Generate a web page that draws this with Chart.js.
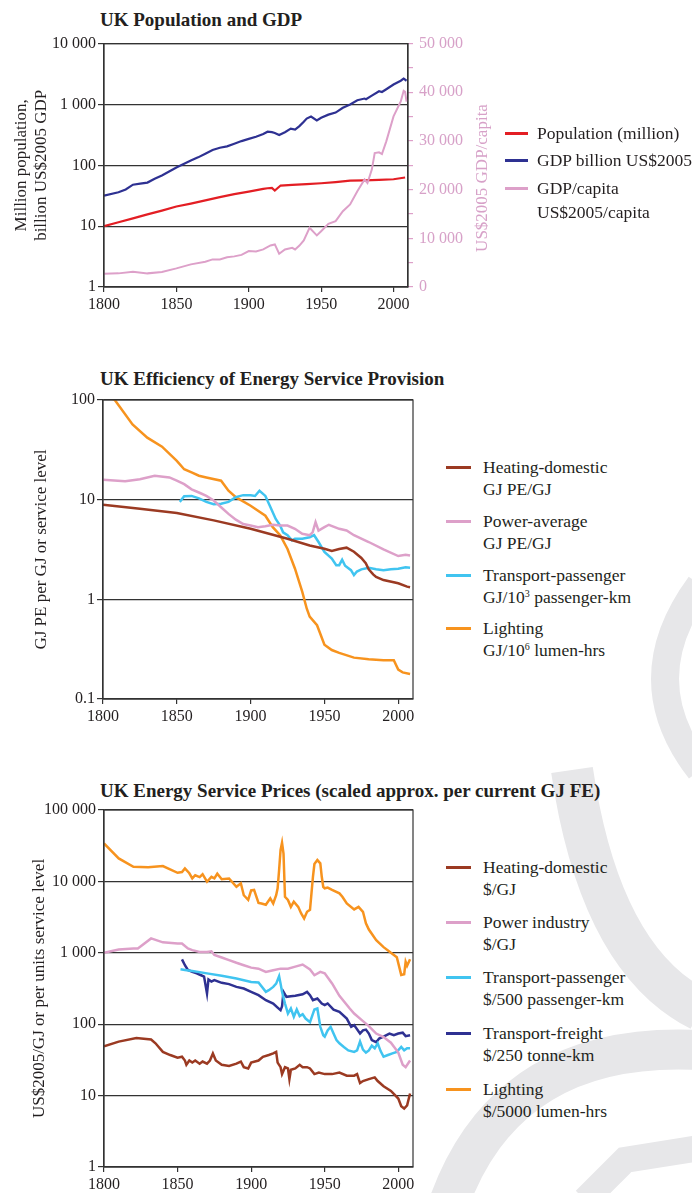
<!DOCTYPE html>
<html>
<head>
<meta charset="utf-8">
<script src="https://cdn.jsdelivr.net/npm/chart.js@4.4.1/dist/chart.umd.min.js"></script>
<style>
  body { margin: 0; background: #fff; }
  #page { position: relative; width: 692px; height: 1193px; overflow: hidden;
          font-family: "Liberation Serif", "DejaVu Serif", serif; color: #231f20; }
  #mark { position: absolute; left: 0; top: 0; }
  canvas { position: absolute; left: 0; }
  .title { position: absolute; left: 100px; font-weight: bold; font-size: 19px; line-height: 22px; white-space: nowrap; }
  .item { position: absolute; font-size: 17.5px; line-height: 22px; white-space: nowrap; }
  .swatch { position: absolute; left: 0; top: 9.5px; height: 3px; }
  .lbl { position: absolute; top: 0; }
  sup { font-size: 10px; vertical-align: 6px; line-height: 0; }
  #rtitle { position: absolute; left: 482px; top: 178px; font-size: 17px; color: #d7a1c8;
            transform: translate(-50%, -50%) rotate(-90deg); white-space: nowrap; }
</style>
</head>
<body>
<div id="page">
  <svg id="mark" width="692" height="1193">
    <g fill="none" stroke="#e7e7e9" stroke-linecap="butt">
      <path d="M 700 585 Q 630 680 700 770" stroke-width="28"/>
      <path d="M 572 770 Q 600 960 700 1010" stroke-width="42"/>
      <path d="M 450 1200 Q 510 1040 700 1050" stroke-width="40"/>
      <path d="M 585 1200 L 625 1160 L 700 1148" stroke-width="26"/>
    </g>
  </svg>

  <div class="title" style="top:9px">UK Population and GDP</div>
  <canvas id="c1" width="480" height="292" style="top:28px"></canvas>
  <div id="rtitle">US$2005 GDP/capita</div>
  <div class="item" style="left:505px;top:122px"><span class="swatch" style="width:23px;background:#e31e24"></span><div class="lbl" style="left:32px">Population (million)</div></div>
  <div class="item" style="left:505px;top:149px"><span class="swatch" style="width:23px;background:#2e3192"></span><div class="lbl" style="left:32px">GDP billion US$2005</div></div>
  <div class="item" style="left:505px;top:176px;line-height:24px"><span class="swatch" style="width:23px;background:#dda0c9;top:10.5px"></span><div class="lbl" style="left:32px">GDP/capita<br>US$2005/capita</div></div>

  <div class="title" style="top:368px">UK Efficiency of Energy Service Provision</div>
  <canvas id="c2" width="420" height="344" style="top:388px"></canvas>
  <div class="item" style="left:446px;top:456px"><span class="swatch" style="width:25px;background:#9b3a22"></span><div class="lbl" style="left:37px">Heating-domestic<br>GJ PE/GJ</div></div>
  <div class="item" style="left:446px;top:510px"><span class="swatch" style="width:25px;background:#dda0c9"></span><div class="lbl" style="left:37px">Power-average<br>GJ PE/GJ</div></div>
  <div class="item" style="left:446px;top:564px"><span class="swatch" style="width:25px;background:#40c4f0"></span><div class="lbl" style="left:37px">Transport-passenger<br>GJ/10<sup>3</sup> passenger-km</div></div>
  <div class="item" style="left:446px;top:617px"><span class="swatch" style="width:25px;background:#f7931e"></span><div class="lbl" style="left:37px">Lighting<br>GJ/10<sup>6</sup> lumen-hrs</div></div>

  <div class="title" style="top:780px">UK Energy Service Prices (scaled approx. per current GJ FE)</div>
  <canvas id="c3" width="420" height="395" style="top:798px"></canvas>
  <div class="item" style="left:446px;top:856px"><span class="swatch" style="width:25px;background:#9b3a22"></span><div class="lbl" style="left:37px">Heating-domestic<br>$/GJ</div></div>
  <div class="item" style="left:446px;top:911px"><span class="swatch" style="width:25px;background:#dda0c9"></span><div class="lbl" style="left:37px">Power industry<br>$/GJ</div></div>
  <div class="item" style="left:446px;top:966px"><span class="swatch" style="width:25px;background:#40c4f0"></span><div class="lbl" style="left:37px">Transport-passenger<br>$/500 passenger-km</div></div>
  <div class="item" style="left:446px;top:1022px"><span class="swatch" style="width:25px;background:#2e3192"></span><div class="lbl" style="left:37px">Transport-freight<br>$/250 tonne-km</div></div>
  <div class="item" style="left:446px;top:1078px"><span class="swatch" style="width:25px;background:#f7931e"></span><div class="lbl" style="left:37px">Lighting<br>$/5000 lumen-hrs</div></div>
</div>

<script>
// ---- tick labels ----
const xTicks = [1800, 1850, 1900, 1950, 2000];
const popTicks = [1, 10, 100, 1000, 10000];
const gdpPcTicks = [0, 5000, 10000, 15000, 20000, 25000, 30000, 35000, 40000, 45000, 50000];
const effTicks = [0.1, 1, 10, 100];
const priceTicks = [1, 10, 100, 1000, 10000, 100000];

// ---- UK Population and GDP ----
const popYears = [1800, 1810, 1820, 1830, 1840, 1850, 1860, 1870, 1880, 1890, 1900, 1910, 1913, 1916, 1918, 1922, 1930, 1940, 1950, 1960, 1970, 1980, 1990, 2000, 2008];
const popValues = [10, 11.6, 13.4, 15.6, 18, 21, 23.5, 26.5, 30, 33.5, 37, 41, 42, 42.5, 38.5, 46.5, 47.5, 49, 50.7, 53, 56, 56.5, 57.5, 59, 63];

const gdpYears = [1800, 1810, 1815, 1820, 1825, 1830, 1835, 1840, 1845, 1850, 1855, 1860, 1865, 1870, 1875, 1880, 1885, 1890, 1895, 1900, 1905, 1910, 1913, 1916, 1918, 1921, 1925, 1929, 1932, 1935, 1938, 1940, 1943, 1947, 1950, 1955, 1960, 1965, 1970, 1975, 1980, 1981, 1985, 1990, 1992, 1995, 2000, 2005, 2007, 2009];
const gdpValues = [31.7, 36, 40, 48, 50, 52, 60, 68, 79, 92, 105, 120, 135, 155, 178, 194, 205, 226, 250, 272, 295, 326, 357, 350, 340, 314, 350, 400, 385, 440, 520, 585, 632, 545, 605, 680, 735, 880, 1000, 1170, 1250, 1220, 1400, 1650, 1600, 1780, 2130, 2450, 2650, 2450];

const gdpPcYears = [1800, 1810, 1820, 1830, 1840, 1850, 1860, 1870, 1875, 1880, 1885, 1890, 1895, 1900, 1905, 1910, 1915, 1918, 1921, 1925, 1930, 1932, 1935, 1938, 1942, 1947, 1950, 1955, 1960, 1965, 1970, 1975, 1980, 1982, 1985, 1987, 1990, 1992, 1995, 2000, 2005, 2007, 2008, 2009];
const gdpPcValues = [2725, 2800, 3135, 2800, 3100, 3830, 4650, 5190, 5670, 5670, 6100, 6290, 6600, 7375, 7300, 7720, 8540, 8750, 6830, 7700, 8050, 7720, 8500, 9560, 12150, 10590, 11470, 12970, 13520, 15570, 16950, 19670, 22070, 21370, 24120, 27500, 27660, 27300, 29920, 35040, 38110, 40300, 40100, 38100];

// ---- UK Efficiency of Energy Service Provision ----
const heatEffYears = [1800, 1825, 1850, 1875, 1900, 1925, 1940, 1950, 1955, 1960, 1965, 1970, 1975, 1978, 1980, 1983, 1985, 1990, 2000, 2006, 2008];
const heatEffValues = [8.9, 8.1, 7.36, 6.2, 5.1, 4.06, 3.47, 3.22, 3.06, 3.2, 3.3, 3.0, 2.6, 2.3, 2.0, 1.78, 1.68, 1.56, 1.45, 1.34, 1.32];

const powerEffYears = [1800, 1815, 1825, 1835, 1845, 1850, 1855, 1860, 1865, 1870, 1875, 1880, 1885, 1890, 1895, 1900, 1905, 1910, 1915, 1920, 1925, 1930, 1935, 1940, 1942, 1944, 1946, 1950, 1953, 1960, 1965, 1970, 1975, 1980, 1990, 2000, 2005, 2008];
const powerEffValues = [15.8, 15.3, 16, 17.4, 16.7, 15.5, 14.3, 12.7, 11.8, 10.9, 9.8, 8.4, 7.2, 6.3, 5.7, 5.5, 5.3, 5.4, 5.6, 5.5, 5.5, 5.1, 4.55, 4.4, 4.7, 5.95, 4.9, 5.3, 5.6, 5.1, 4.9, 4.4, 4.06, 3.76, 3.17, 2.72, 2.8, 2.75];

const passEffYears = [1852, 1855, 1860, 1865, 1870, 1875, 1880, 1885, 1890, 1895, 1900, 1903, 1906, 1910, 1913, 1917, 1920, 1922, 1925, 1928, 1930, 1935, 1940, 1943, 1946, 1950, 1955, 1958, 1960, 1962, 1964, 1968, 1970, 1972, 1975, 1980, 1985, 1990, 1995, 2000, 2005, 2008];
const passEffValues = [9.5, 10.8, 10.9, 10.3, 9.5, 9.0, 9.1, 9.5, 10.6, 11.1, 11.1, 10.9, 12.3, 10.9, 8.7, 6.4, 5.5, 4.7, 4.4, 3.9, 4.06, 4.06, 4.2, 4.4, 3.76, 2.99, 2.56, 2.2, 2.2, 2.5, 2.17, 1.96, 1.75, 1.9, 2.0, 2.07, 2.0, 1.96, 2.0, 2.03, 2.1, 2.08];

const lightEffYears = [1800, 1808, 1820, 1830, 1840, 1850, 1855, 1860, 1865, 1870, 1880, 1885, 1890, 1900, 1910, 1915, 1920, 1925, 1930, 1935, 1938, 1940, 1945, 1950, 1955, 1960, 1970, 1980, 1990, 1997, 2000, 2003, 2008];
const lightEffValues = [115, 100, 56.8, 41.9, 34, 24.5, 20.2, 18.8, 17.4, 16.7, 15.5, 12.3, 10.6, 8.7, 6.9, 5.3, 4.4, 3.2, 2.04, 1.19, 0.81, 0.67, 0.55, 0.35, 0.31, 0.29, 0.26, 0.25, 0.245, 0.245, 0.197, 0.185, 0.178];

// ---- UK Energy Service Prices ----
const heatPriceYears = [1800, 1810, 1822, 1832, 1835, 1840, 1845, 1850, 1853, 1855, 1856, 1858, 1860, 1862, 1865, 1867, 1870, 1872, 1874, 1876, 1880, 1885, 1890, 1893, 1895, 1898, 1900, 1905, 1908, 1912, 1915, 1917, 1918, 1920, 1921, 1923, 1925, 1926, 1927, 1930, 1933, 1935, 1938, 1940, 1943, 1946, 1950, 1955, 1960, 1965, 1970, 1972, 1974, 1976, 1980, 1984, 1986, 1990, 1995, 2000, 2002, 2004, 2006, 2008];
const heatPriceValues = [49, 57, 64, 61, 54, 41, 37, 34, 35, 31, 27, 31, 29, 31, 28, 30, 28, 31, 39, 31, 27, 26, 28, 30, 25, 24, 29, 31, 35, 37, 39, 41, 29, 25, 20, 25, 24, 17, 23, 24, 27, 25, 25, 24, 20, 21, 20, 20, 21, 19, 19, 20, 15, 16, 17, 18, 16, 13.5, 11.6, 9.1, 7.1, 6.6, 7.3, 10.7];

const powerPriceYears = [1800, 1810, 1820, 1823, 1832, 1840, 1850, 1853, 1857, 1860, 1865, 1870, 1873, 1875, 1880, 1885, 1890, 1895, 1900, 1905, 1910, 1915, 1920, 1925, 1930, 1935, 1940, 1943, 1947, 1950, 1955, 1960, 1967, 1970, 1975, 1980, 1985, 1990, 1995, 2000, 2003, 2005, 2008];
const powerPriceValues = [1000, 1110, 1150, 1150, 1590, 1400, 1350, 1350, 1150, 1090, 1030, 1030, 1050, 930, 860, 790, 725, 670, 620, 600, 540, 570, 600, 600, 640, 685, 585, 485, 540, 515, 372, 250, 166, 141, 115, 94, 74, 66, 55, 40, 27, 25, 31];

const passPriceYears = [1852, 1855, 1860, 1870, 1880, 1890, 1900, 1905, 1910, 1912, 1915, 1917, 1919, 1920, 1921, 1923, 1925, 1927, 1929, 1931, 1933, 1935, 1937, 1940, 1943, 1945, 1947, 1949, 1950, 1952, 1954, 1956, 1958, 1960, 1963, 1966, 1970, 1972, 1974, 1976, 1978, 1980, 1982, 1984, 1986, 1988, 1990, 1993, 1996, 1999, 2002, 2004, 2006, 2008];
const passPriceValues = [590, 575, 555, 515, 476, 437, 390, 385, 284, 300, 333, 370, 471, 370, 284, 195, 141, 166, 127, 161, 130, 138, 120, 107, 161, 166, 92, 70, 67, 82, 92, 74, 60, 54, 48, 43, 41, 43, 57, 44, 40, 43, 50, 46, 54, 42, 35, 37, 39, 41, 48, 43, 46, 46];

const freightPriceYears = [1853, 1855, 1857, 1860, 1863, 1866, 1868, 1870, 1871, 1873, 1875, 1880, 1885, 1890, 1895, 1900, 1905, 1910, 1915, 1918, 1920, 1921, 1922, 1924, 1927, 1930, 1935, 1938, 1940, 1942, 1945, 1948, 1950, 1952, 1956, 1960, 1965, 1968, 1970, 1974, 1976, 1978, 1980, 1982, 1985, 1987, 1990, 1994, 1997, 2000, 2003, 2005, 2008];
const freightPriceValues = [810, 670, 575, 540, 515, 485, 465, 269, 423, 395, 415, 380, 364, 333, 316, 284, 255, 217, 195, 171, 157, 178, 284, 242, 247, 250, 262, 284, 255, 217, 229, 195, 185, 195, 160, 149, 120, 92, 97, 74, 82, 84, 74, 60, 56, 63, 67, 74, 70, 74, 76, 68, 70];

const lightPriceYears = [1800, 1810, 1820, 1830, 1840, 1850, 1853, 1855, 1858, 1860, 1862, 1865, 1867, 1870, 1873, 1875, 1877, 1880, 1885, 1890, 1893, 1895, 1898, 1900, 1902, 1905, 1907, 1910, 1913, 1915, 1917, 1918, 1919, 1920, 1921, 1922, 1923, 1925, 1927, 1929, 1932, 1934, 1936, 1938, 1940, 1941, 1942, 1943, 1945, 1947, 1948, 1949, 1950, 1952, 1955, 1960, 1962, 1965, 1970, 1973, 1976, 1978, 1980, 1985, 1990, 1995, 1999, 2002, 2004, 2005, 2006, 2008];
const lightPriceValues = [34000, 21000, 16000, 15800, 16400, 13200, 13500, 15200, 13000, 11000, 12200, 11500, 12600, 9900, 11600, 11000, 12800, 10700, 11000, 8400, 9400, 6400, 5500, 7500, 7600, 5000, 4900, 4700, 5800, 4900, 6400, 8000, 14400, 27500, 34800, 24600, 6100, 5500, 4400, 5200, 4400, 3550, 3030, 3750, 4000, 6800, 11600, 17500, 19900, 17900, 11600, 8400, 8000, 8200, 7600, 6800, 6100, 4900, 4050, 4400, 3750, 2580, 2120, 1500, 1200, 1000, 870, 490, 500, 750, 660, 810];

// ---- colours ----
const RED = "#e31e24";
const NAVY = "#2e3192";
const PINK = "#dda0c9";
const BROWN = "#9b3a22";
const CYAN = "#40c4f0";
const ORANGE = "#f7931e";
const AXIS = "#333";
const SERIF = "'Liberation Serif', 'DejaVu Serif', serif";

Chart.defaults.font.family = SERIF;
Chart.defaults.font.size = 16;
Chart.defaults.color = "#231f20";

function fmt(v) {
  return v >= 1000 ? String(v).replace(/\B(?=(\d{3})+(?!\d))/g, " ") : String(v);
}

function series(label, years, values, color, width, axis) {
  return {
    label,
    data: years.map((x, i) => ({ x, y: values[i] })),
    borderColor: color,
    backgroundColor: color,
    borderWidth: width,
    pointRadius: 0,
    tension: 0,
    fill: false,
    yAxisID: axis || "y"
  };
}

// box round the plot area
const frame = {
  id: "frame",
  afterDatasetsDraw(chart) {
    const a = chart.chartArea;
    const ctx = chart.ctx;
    ctx.save();
    ctx.strokeStyle = AXIS;
    ctx.lineWidth = 1.2;
    ctx.strokeRect(a.left, a.top, a.right - a.left, a.bottom - a.top);
    ctx.restore();
  }
};

function xAxis(height) {
  return {
    type: "linear",
    min: 1800,
    max: 2010,
    afterBuildTicks: s => { s.ticks = xTicks.map(v => ({ value: v })); },
    afterFit: s => { s.height = height; },
    grid: { drawOnChartArea: false, tickLength: 5, color: AXIS, lineWidth: 1.2 },
    border: { color: AXIS, width: 1.2 },
    ticks: { padding: 3, maxRotation: 0, autoSkip: false, font: { family: SERIF, size: 16 }, callback: v => String(v) }
  };
}

function yLog(min, max, ticks, width, title, titlePad) {
  return {
    type: "logarithmic",
    position: "left",
    min,
    max,
    afterBuildTicks: s => { s.ticks = ticks.map(v => ({ value: v })); },
    afterFit: s => { s.width = width; },
    grid: { color: AXIS, lineWidth: 1.2, tickLength: 6 },
    border: { color: AXIS, width: 1.2 },
    ticks: { padding: 2, autoSkip: false, font: { family: SERIF, size: 16 }, callback: v => fmt(v) },
    title: { display: true, text: title, padding: { top: titlePad, bottom: 0 }, font: { family: SERIF, size: 17, lineHeight: 1.2 } }
  };
}

function baseOptions(scales, padRight) {
  return {
    responsive: false,
    animation: false,
    layout: { autoPadding: false, padding: { top: 12, right: padRight, bottom: 0, left: 0 } },
    plugins: { legend: { display: false }, tooltip: { enabled: false } },
    scales
  };
}

// chart 1
new Chart(document.getElementById("c1"), {
  type: "line",
  data: {
    datasets: [
      series("GDP/capita US$2005/capita", gdpPcYears, gdpPcValues, PINK, 2, "y2"),
      series("Population (million)", popYears, popValues, RED, 2.2),
      series("GDP billion US$2005", gdpYears, gdpValues, NAVY, 2.2)
    ]
  },
  options: baseOptions({
    x: xAxis(33),
    y: yLog(1, 10000, popTicks, 104, ["Million population,", "billion US$2005 GDP"], 11),
    y2: {
      type: "linear",
      position: "right",
      min: 0,
      max: 50000,
      afterBuildTicks: s => { s.ticks = gdpPcTicks.map(v => ({ value: v })); },
      afterFit: s => { s.width = 72; },
      grid: { drawOnChartArea: false, tickLength: 5, color: PINK, lineWidth: 1.2 },
      border: { color: AXIS, width: 1.2 },
      ticks: { color: "#d7a1c8", padding: 6, autoSkip: false, font: { family: SERIF, size: 16 }, callback: v => (v % 10000 === 0 ? fmt(v) : "") }
    }
  }, 0),
  plugins: [frame]
});

// chart 2
new Chart(document.getElementById("c2"), {
  type: "line",
  data: {
    datasets: [
      series("Power-average", powerEffYears, powerEffValues, PINK, 2.5),
      series("Heating-domestic", heatEffYears, heatEffValues, BROWN, 2.5),
      series("Transport-passenger", passEffYears, passEffValues, CYAN, 2.5),
      series("Lighting", lightEffYears, lightEffValues, ORANGE, 2.5)
    ]
  },
  options: baseOptions({
    x: xAxis(33),
    y: yLog(0.1, 100, effTicks, 103, "GJ PE per GJ or service level", 31)
  }, 7),
  plugins: [frame]
});

// chart 3
new Chart(document.getElementById("c3"), {
  type: "line",
  data: {
    datasets: [
      series("Power industry", powerPriceYears, powerPriceValues, PINK, 2.5),
      series("Transport-passenger", passPriceYears, passPriceValues, CYAN, 2.5),
      series("Transport-freight", freightPriceYears, freightPriceValues, NAVY, 2.5),
      series("Heating-domestic", heatPriceYears, heatPriceValues, BROWN, 2.5),
      series("Lighting", lightPriceYears, lightPriceValues, ORANGE, 2.5)
    ]
  },
  options: baseOptions({
    x: xAxis(26),
    y: yLog(1, 100000, priceTicks, 104, "US$2005/GJ or per units service level", 29)
  }, 7),
  plugins: [frame]
});
</script>
</body>
</html>
